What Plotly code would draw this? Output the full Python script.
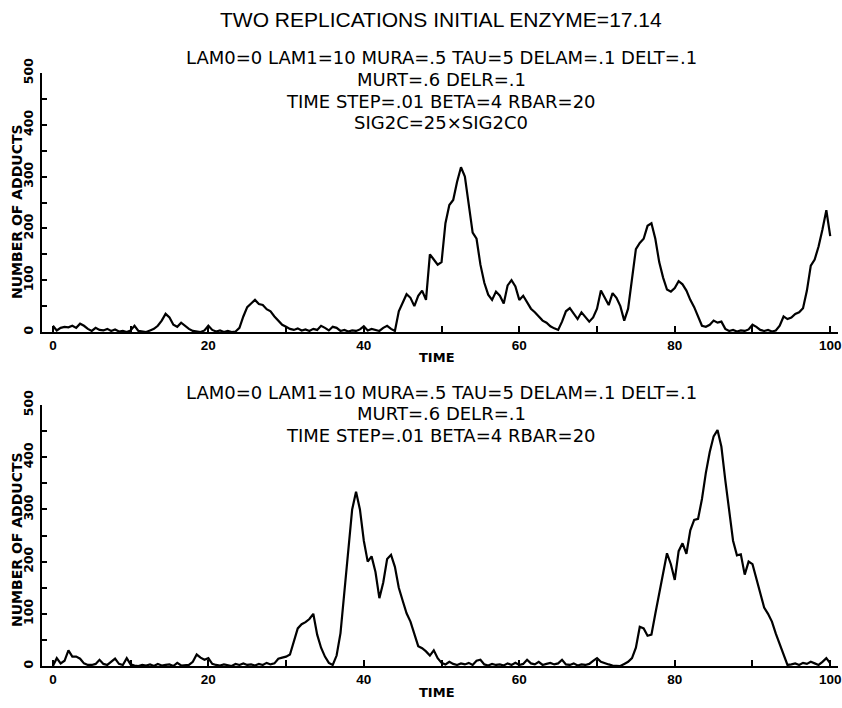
import numpy as np
import plotly.graph_objects as go

# time grid (every half unit) and the two replications
TIME = np.linspace(0, 100, 201)

REP1 = [
    12, 3, 8, 10, 9, 12, 8, 16, 12, 6,
    2, 8, 4, 3, 6, 2, 5, 1, 2, 0,
    3, 12, 2, 1, 0, 3, 6, 12, 22, 35,
    28, 14, 10, 18, 12, 6, 2, 1, 0, 3,
    12, 4, 1, 3, 0, 2, 0, 1, 8, 30,
    48, 55, 62, 54, 52, 44, 40, 30, 22, 14,
    10, 6, 4, 7, 3, 5, 2, 6, 4, 12,
    8, 3, 10, 8, 2, 4, 1, 3, 2, 5,
    11, 3, 6, 4, 2, 8, 12, 6, 2, 40,
    58, 73, 66, 50, 70, 80, 62, 150, 140, 130,
    135, 210, 245, 255, 290, 318, 300, 250, 192, 180,
    130, 95, 72, 62, 78, 70, 55, 90, 100, 88,
    62, 70, 58, 45, 38, 30, 22, 18, 11, 7,
    4, 20, 40, 46, 35, 25, 38, 30, 20, 28,
    45, 80, 65, 52, 75, 66, 50, 22, 45, 100,
    160, 172, 180, 205, 210, 180, 135, 105, 82, 78,
    85, 98, 92, 80, 62, 48, 30, 12, 10, 14,
    22, 18, 20, 6, 2, 4, 1, 3, 2, 5,
    14, 10, 4, 2, 4, 1, 3, 12, 30, 25,
    28, 35, 38, 46, 80, 128, 140, 165, 198, 235,
    185,
]

REP2 = [
    0, 15, 5, 10, 30, 18, 18, 14, 5, 2,
    2, 4, 12, 4, 2, 8, 14, 4, 2, 15,
    3, 1, 0, 2, 1, 3, 0, 4, 1, 2,
    3, 0, 6, 1, 2, 2, 8, 22, 16, 12,
    15, 4, 2, 1, 3, 2, 0, 4, 2, 5,
    2, 3, 1, 4, 2, 6, 3, 5, 14, 16,
    18, 22, 45, 72, 80, 84, 90, 100, 60, 35,
    18, 6, 2, 20, 63, 140, 225, 300, 334, 300,
    240, 200, 210, 180, 130, 160, 205, 213, 190, 150,
    125, 101, 85, 62, 38, 34, 28, 20, 30, 15,
    6, 3, 8, 4, 2, 5, 3, 6, 2, 10,
    12, 3, 1, 4, 2, 3, 1, 5, 2, 6,
    2, 4, 12, 5, 3, 8, 2, 4, 6, 3,
    5, 12, 3, 2, 5, 1, 3, 2, 4, 10,
    15, 8, 5, 3, 1, 0, 0, 4, 8, 15,
    35, 75, 72, 58, 60, 100, 140, 180, 216, 195,
    165, 220, 235, 215, 260, 280, 282, 320, 370, 410,
    440, 452, 420, 356, 300, 240, 212, 214, 175, 200,
    195, 168, 140, 112, 100, 85, 62, 42, 20, 2,
    3, 5, 2, 6, 4, 8, 5, 2, 8, 15,
    5,
]

X_TICKS = [0, 10, 20, 30, 40, 50, 60, 70, 80, 90, 100]
X_LABELS = ["0", "", "20", "", "40", "", "60", "", "80", "", "100"]
Y_TICKS = [0, 50, 100, 150, 200, 250, 300, 350, 400, 450, 500]
Y_LABELS = ["0", "", "100", "", "200", "", "300", "", "400", "", "500"]

TITLE = "TWO REPLICATIONS INITIAL ENZYME=17.14"
PARAMS_TOP = [
    "LAM0=0 LAM1=10 MURA=.5 TAU=5 DELAM=.1 DELT=.1",
    "MURT=.6 DELR=.1",
    "TIME STEP=.01 BETA=4 RBAR=20",
    "SIG2C=25×SIG2C0",
]
PARAMS_BOTTOM = PARAMS_TOP[:3]

W, H = 842, 708
BOLD = "DejaVu Sans, sans-serif"
TEXT = "DejaVu Sans, sans-serif"
TITLE_FONT = "Liberation Sans, Arial, sans-serif"


def px_x(p):
    return p / W


def px_y(p):
    return 1 - p / H


fig = go.Figure()
fig.add_trace(go.Scatter(x=TIME, y=REP1, mode="lines", xaxis="x", yaxis="y",
                         line=dict(color="black", width=2.2), showlegend=False))
fig.add_trace(go.Scatter(x=TIME, y=REP2, mode="lines", xaxis="x2", yaxis="y2",
                         line=dict(color="black", width=2.2), showlegend=False))

xaxis_style = dict(
    domain=[px_x(42), px_x(838)], range=[-1.4, 101], showgrid=False, zeroline=False,
    showline=True, linecolor="black", linewidth=2,
    ticks="inside", ticklen=6, tickwidth=1.5, tickcolor="black",
    tickvals=X_TICKS, ticktext=X_LABELS, ticklabeloverflow="allow",
    tickfont=dict(family=TITLE_FONT, size=13.5, color="black", weight="bold"),
)
yaxis_style = dict(
    range=[0, 500], showgrid=False, zeroline=False,
    showline=True, linecolor="black", linewidth=2,
    ticks="inside", ticklen=5, tickwidth=1.5, tickcolor="black",
    tickvals=Y_TICKS, ticktext=Y_LABELS, tickangle=-90,
    ticklabelstandoff=2,
    tickfont=dict(family=BOLD, size=12.5, color="black", weight="bold"),
)

fig.update_layout(
    width=W, height=H,
    margin=dict(l=0, r=0, t=0, b=0, autoexpand=False),
    paper_bgcolor="white", plot_bgcolor="white",
    xaxis=dict(xaxis_style, anchor="y"),
    yaxis=dict(yaxis_style, anchor="x", domain=[px_y(332), px_y(73)]),
    xaxis2=dict(xaxis_style, anchor="y2"),
    yaxis2=dict(yaxis_style, anchor="x2", domain=[px_y(666), px_y(405)]),
)

ann = []
ann.append(dict(text=TITLE, x=px_x(441), y=px_y(20),
                font=dict(family=TITLE_FONT, size=21)))
for i, line in enumerate(PARAMS_TOP):
    ann.append(dict(text=line, x=px_x(441), y=px_y(57 + 22 * i),
                    font=dict(family=TEXT, size=18)))
for i, line in enumerate(PARAMS_BOTTOM):
    ann.append(dict(text=line, x=px_x(441), y=px_y(392 + 21.5 * i),
                    font=dict(family=TEXT, size=18)))
for yy in (358, 692):
    ann.append(dict(text="TIME", x=px_x(437), y=px_y(yy),
                    font=dict(family=BOLD, size=13, weight="bold")))
for yy in (212, 540):
    ann.append(dict(text="NUMBER OF ADDUCTS", x=px_x(17), y=px_y(yy), textangle=-90,
                    font=dict(family=BOLD, size=14, weight="bold")))

for a in ann:
    a.update(xref="paper", yref="paper", showarrow=False,
             xanchor="center", yanchor="middle")
    a["font"].update(color="black")
fig.update_layout(annotations=ann)

# drop the default 8px page margin so the figure fills the window exactly
fig.write_html("out.html", config={"displayModeBar": False},
               post_script="document.body.style.margin = '0';")
